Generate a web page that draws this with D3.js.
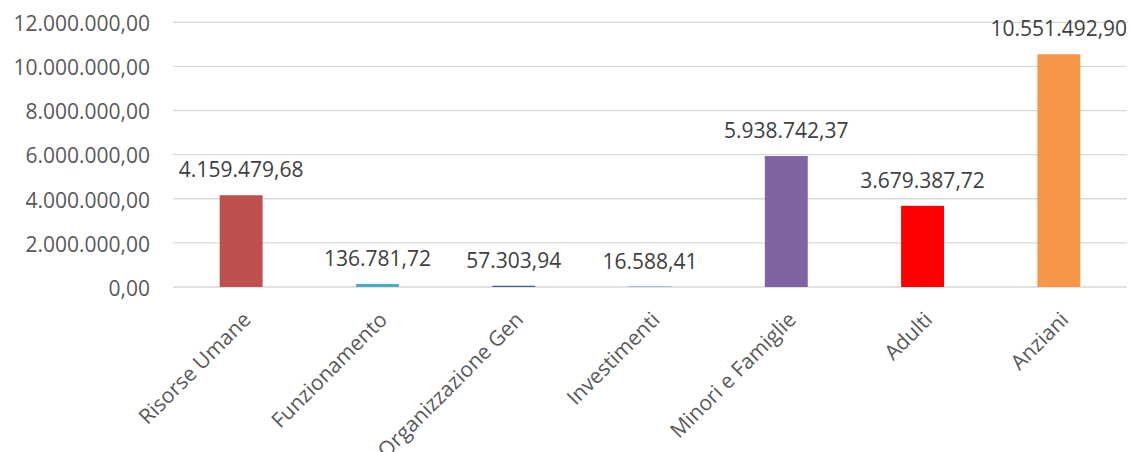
<!DOCTYPE html>
<html lang="it">
<head>
<meta charset="utf-8">
<title>Spesa per area</title>
<script src="https://cdn.jsdelivr.net/npm/d3@7/dist/d3.min.js"></script>
<style>
  body { margin: 0; background: #ffffff; }
  svg { display: block; }
  .tick_label { font-family: "Open Sans", sans-serif; font-size: 21px; fill: #595959; }
  .cat_label { font-family: "Open Sans", sans-serif; font-size: 21px; fill: #595959; }
  .value_label { font-family: "Open Sans", sans-serif; font-size: 21px; fill: #404040; text-anchor: middle; }
</style>
</head>
<body>
<script>
// data
var categories = ["Risorse Umane", "Funzionamento", "Organizzazione Gen", "Investimenti", "Minori e Famiglie", "Adulti", "Anziani"];
var values = [4159479.68, 136781.72, 57303.94, 16588.41, 5938742.37, 3679387.72, 10551492.90];
var barColors = ["#C0504D", "#4BACC6", "#3F5F9E", "#4F81BD", "#8064A2", "#FF0000", "#F79646"];
var yTicks = [0, 2000000, 4000000, 6000000, 8000000, 10000000, 12000000];

var svgWidth = 1131;
var svgHeight = 452;
var plotLeft = 173, plotRight = 1127, plotTop = 22.3, plotBottom = 287;

var itLocale = d3.formatLocale({decimal: ",", thousands: ".", grouping: [3], currency: ["€", ""]});
var fmt = itLocale.format(",.2f");

var x = d3.scaleBand()
    .domain(categories)
    .range([plotLeft, plotRight])
    .paddingInner(0.685)
    .paddingOuter(0.3425);

var y = d3.scaleLinear()
    .domain([0, 12000000])
    .range([plotBottom, plotTop]);

var svg = d3.select("body")
    .append("svg")
    .attr("width", svgWidth)
    .attr("height", svgHeight);

svg.append("rect")
    .attr("width", svgWidth)
    .attr("height", svgHeight)
    .attr("fill", "#ffffff");

// gridlines
svg.append("g")
    .selectAll("line")
    .data(yTicks)
    .enter()
    .append("line")
    .attr("x1", plotLeft)
    .attr("x2", plotRight)
    .attr("y1", function(d) { return y(d); })
    .attr("y2", function(d) { return y(d); })
    .attr("stroke", "#D9D9D9")
    .attr("stroke-width", 1.3);

// y axis labels
svg.append("g")
    .selectAll("text")
    .data(yTicks)
    .enter()
    .append("text")
    .attr("class", "tick_label")
    .attr("x", 150)
    .attr("y", function(d) { return y(d); })
    .attr("dy", "0.42em")
    .attr("text-anchor", "end")
    .text(function(d) { return fmt(d); });

// bars
svg.append("g")
    .selectAll("rect")
    .data(values)
    .enter()
    .append("rect")
    .attr("x", function(d, i) { return x(categories[i]); })
    .attr("width", x.bandwidth())
    .attr("y", function(d) { return y(d); })
    .attr("height", function(d) { return y(0) - y(d); })
    .attr("fill", function(d, i) { return barColors[i]; });

// value labels
svg.append("g")
    .selectAll("text")
    .data(values)
    .enter()
    .append("text")
    .attr("class", "value_label")
    .attr("x", function(d, i) { return x(categories[i]) + x.bandwidth() / 2; })
    .attr("y", function(d) { return y(d) - 18; })
    .text(function(d) { return fmt(d); });

// category labels, rotated
svg.append("g")
    .selectAll("text")
    .data(categories)
    .enter()
    .append("text")
    .attr("class", "cat_label")
    .attr("text-anchor", "end")
    .attr("transform", function(d) {
      var cx = x(d) + x.bandwidth() / 2;
      return "translate(" + (cx + 11) + "," + 321 + ") rotate(-45)";
    })
    .text(function(d) { return d; });
</script>
</body>
</html>
